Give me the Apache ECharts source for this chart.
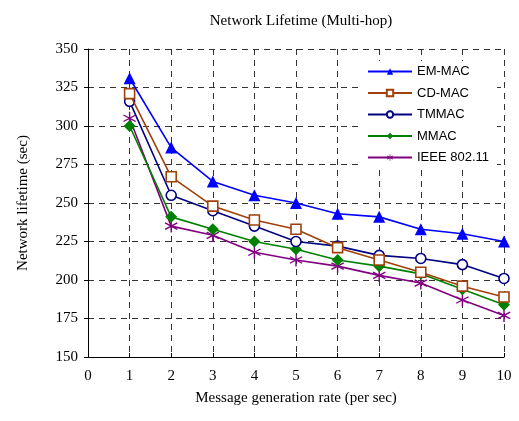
<!DOCTYPE html>
<html><head><meta charset="utf-8">
<script src="https://cdn.jsdelivr.net/npm/echarts@6/dist/echarts.min.js"></script>
<style>html,body{margin:0;padding:0;background:#fff}#c{width:519px;height:421px}</style>
</head><body><div id="c"></div>
<script>
const xValues = [1,2,3,4,5,6,7,8,9,10];
const seriesNames = ['EM-MAC','CD-MAC','TMMAC','MMAC','IEEE 802.11'];
const emMac = [331,286,264,255,250,243,241,233,230,225];
const cdMac = [321,267,248,239,233,221,213,205,196,189];
const tmMac = [316,255,245,235,225,222,216,214,210,201];
const mMac  = [300,241,233,225,220,213,209,204,194,184];
const ieee  = [305,235,229,218,213,209,203,198,187,177];
const yTicks = {min:150, max:350, step:25};
const xTicks = {min:0, max:10, step:1};

const star = 'path://M9,0L11,0L11,20L9,20Z M0.84,5.87L1.84,4.13L19.16,14.13L18.16,15.87Z M0.84,14.13L18.16,4.13L19.16,5.87L1.84,15.87Z';
const styles = [
  {color:'#0000FF', symbol:'triangle', size:12, fill:'#0000FF'},
  {color:'#A0400A', symbol:'rect', size:10, fill:'#fff'},
  {color:'#000080', symbol:'circle', size:10, fill:'#fff'},
  {color:'#008000', symbol:'diamond', size:12, fill:'#008000'},
  {color:'#800080', symbol:star, size:13, fill:'#800080'}
];
const data = [emMac, cdMac, tmMac, mMac, ieee];

const chart = echarts.init(document.getElementById('c'));
chart.setOption({
  animation:false,
  backgroundColor:'#fff',
  title:{text:'Network Lifetime (Multi-hop)', left:296, top:9, textAlign:'center',
    textStyle:{fontFamily:'Liberation Serif', fontSize:15, fontWeight:'normal', color:'#000'}},
  grid:{left:88, right:15, top:49, bottom:64},
  legend:{
    left:362, top:61, orient:'vertical', itemWidth:44, itemHeight:8, itemGap:8.5,
    backgroundColor:'#fff', padding:[4,8,4,5],
    textStyle:{fontFamily:'Liberation Sans', fontSize:13, color:'#000'},
    data: seriesNames
  },
  xAxis:{type:'value', min:xTicks.min, max:xTicks.max, interval:xTicks.step,
    name:'Message generation rate (per sec)', nameLocation:'middle', nameGap:34,
    nameTextStyle:{fontFamily:'Liberation Serif', fontSize:15, color:'#000'},
    axisLine:{lineStyle:{color:'#000', width:1}},
    axisTick:{inside:true, length:4, lineStyle:{color:'#000'}},
    axisLabel:{fontFamily:'Liberation Serif', fontSize:15, color:'#000', margin:12},
    splitLine:{show:true, lineStyle:{type:[6,5], color:'#333', width:1}}
  },
  yAxis:{type:'value', min:yTicks.min, max:yTicks.max, interval:yTicks.step,
    name:'Network lifetime (sec)', nameLocation:'middle', nameGap:57,
    nameTextStyle:{fontFamily:'Liberation Serif', fontSize:15, color:'#000'},
    axisLine:{show:true, lineStyle:{color:'#000', width:1}},
    axisTick:{show:true, length:4, lineStyle:{color:'#000'}},
    axisLabel:{fontFamily:'Liberation Serif', fontSize:15, color:'#000', margin:10},
    splitLine:{show:true, lineStyle:{type:[6,5], color:'#333', width:1}}
  },
  series: seriesNames.map((n,i)=>({
    name:n, type:'line',
    data: xValues.map((x,j)=>[x, data[i][j]]),
    symbol: styles[i].symbol, symbolSize: styles[i].size, showAllSymbol:true,
    lineStyle:{color:styles[i].color, width:1.6},
    itemStyle:{color:styles[i].fill, borderColor:styles[i].color, borderWidth:(styles[i].fill==='#fff')?1.6:0},
    emphasis:{disabled:true},
    z: 10 - i
  }))
});
</script></body></html>
